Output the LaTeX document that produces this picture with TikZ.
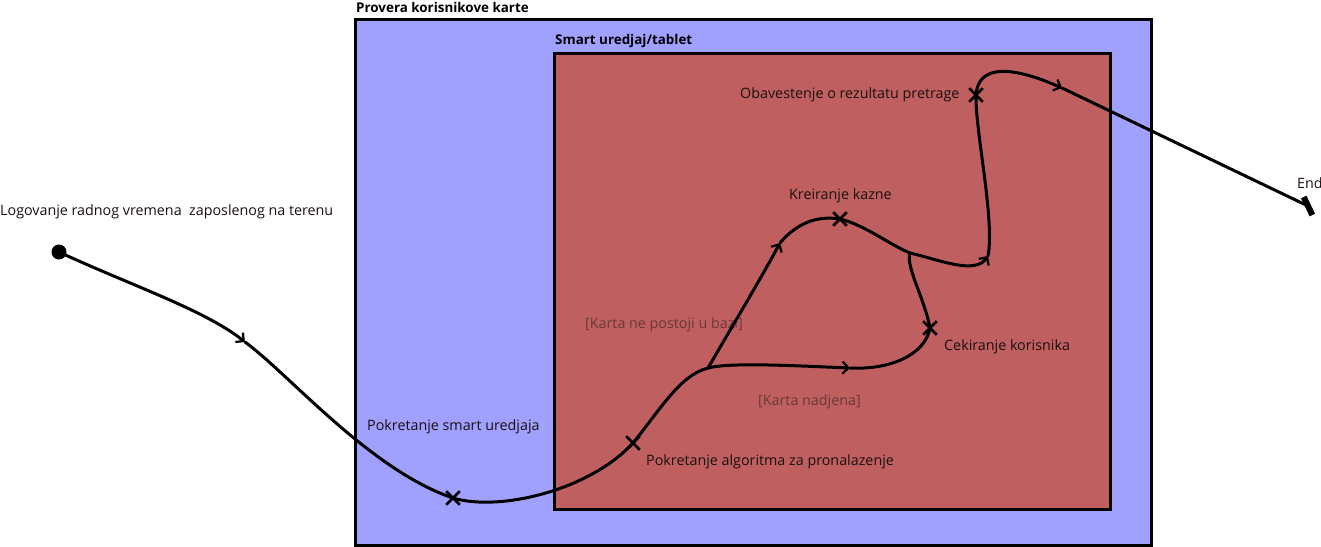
\documentclass[tikz,border=0pt]{standalone}
\usepackage{fontspec}
\setmainfont{Open Sans}
\usetikzlibrary{arrows.meta,shapes.misc}
\definecolor{outerfill}{HTML}{A0A0FF}
\definecolor{innerfill}{HTML}{BF5F5F}
\definecolor{guardtxt}{HTML}{6A3838}
\definecolor{lbltxt}{HTML}{1A1010}
\tikzset{
  flow/.style={line width=3pt, line cap=round},
  flowarr/.style={flow, -{Straight Barb[length=6pt,width=12pt,line width=2.2pt]}},
  xmark/.style={cross out, draw=black, line width=2.6pt, minimum size=11pt, inner sep=0pt},
  lbl/.style={font=\fontsize{14.3}{16}\selectfont, text=lbltxt, anchor=west, inner sep=0pt},
  guard/.style={lbl, text=guardtxt},
  ttl/.style={font=\fontsize{13.4}{15}\selectfont\bfseries, anchor=west, inner sep=0pt},
  box/.style={draw=black, line width=3.2pt}
}
\begin{document}
\begin{tikzpicture}[x=1pt,y=-1pt]
\useasboundingbox (0,0) rectangle (1321,546);
% containers
\node[box, fill=outerfill, minimum width=796pt, minimum height=526pt, inner sep=0pt, anchor=north west] (outer) at (354,18) {};
\node[box, fill=innerfill, minimum width=556pt, minimum height=456pt, inner sep=0pt, anchor=north west] (inner) at (553,52) {};
\node[ttl] (outert) at (356,7) {Provera korisnikove karte};
\node[ttl] (innert) at (555,41) {Smart uredjaj/tablet};
% guard labels
\node[guard] (g1) at (585,325) {[Karta ne postoji u bazi]};
\node[guard] (g2) at (758,402) {[Karta nadjena]};
% coordinates
\node[circle, fill=black, minimum size=15pt, inner sep=0pt] (start) at (59,252) {};
\coordinate (a1) at (245,342);
\node[xmark] (s1) at (453,498) {};
\node[xmark] (s2) at (633,443) {};
\coordinate (br) at (708,368);
\coordinate (a2) at (780,243);
\node[xmark] (s3) at (840,219) {};
\coordinate (jn) at (910,253);
\coordinate (a3) at (850,368);
\node[xmark] (s4) at (930,328) {};
\coordinate (a4) at (988,256);
\node[xmark] (s5) at (976,95) {};
\coordinate (a5) at (1062,88);
\node[fill=black, minimum width=6pt, minimum height=20pt, inner sep=0pt, rotate=25.4] (endn) at (1308,206) {};
% labels
\node[lbl] (l0) at (0,212) {Logovanje radnog vremena\ \ zaposlenog na terenu};
\node[lbl] (l1) at (367,427) {Pokretanje smart uredjaja};
\node[lbl] (l2) at (646,462) {Pokretanje algoritma za pronalazenje};
\node[lbl] (l3) at (789,196) {Kreiranje kazne};
\node[lbl] (l4) at (944,347) {Cekiranje korisnika};
\node[lbl] (l5) at (740,95) {Obavestenje o rezultatu pretrage};
\node[lbl] (l6) at (1297,183) {End};
% flow
\draw[flowarr] (start.center) .. controls (130,285) and (205,310) .. (a1);
\draw[flow] (a1) .. controls (290,375) and (370,470) .. (s1.center);
\draw[flow] (s1.center) .. controls (500,512) and (590,490) .. (s2.center);
\draw[flow] (s2.center) .. controls (660,410) and (680,375) .. (br);
\draw[flowarr] (br) .. controls (730,330) and (760,280) .. (a2);
\draw[flow] (a2) .. controls (795,225) and (815,215) .. (s3.center);
\draw[flow] (s3.center) .. controls (865,225) and (890,245) .. (jn);
\draw[flowarr] (br) .. controls (730,362) and (800,366) .. (a3);
\draw[flow] (a3) .. controls (890,370) and (925,355) .. (s4.center);
\draw[flow] (s4.center) .. controls (925,300) and (905,265) .. (jn);
\draw[flowarr] (jn) .. controls (940,260) and (975,275) .. (a4);
\draw[flow] (a4) .. controls (995,220) and (975,130) .. (s5.center);
\draw[flowarr] (s5.center) .. controls (978,65) and (1010,65) .. (a5);
\draw[flow] (a5) -- (endn.center);
\end{tikzpicture}
\end{document}
